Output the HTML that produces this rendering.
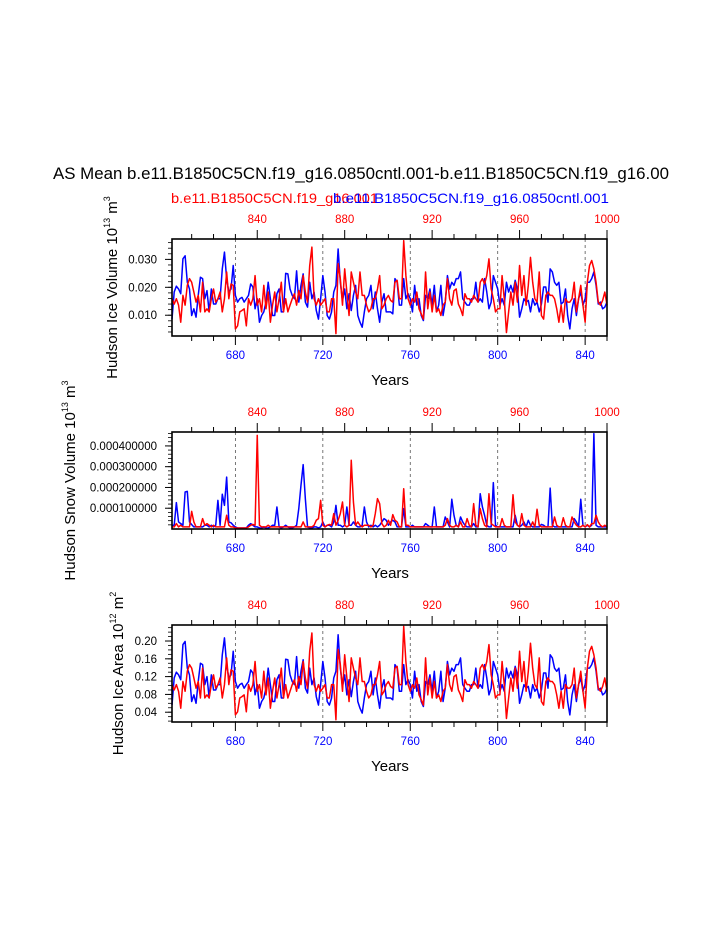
<!DOCTYPE html>
<html><head><meta charset="utf-8"><style>
html,body{margin:0;padding:0;background:#fff;}
svg{display:block;font-family:"Liberation Sans",Arial,sans-serif;}
</style></head><body>
<svg id="chart" width="723" height="935" viewBox="0 0 723 935" xmlns="http://www.w3.org/2000/svg">
<text x="361" y="179" font-size="16.5" text-anchor="middle" textLength="616" lengthAdjust="spacingAndGlyphs">AS Mean b.e11.B1850C5CN.f19_g16.0850cntl.001-b.e11.B1850C5CN.f19_g16.00</text>
<text x="171" y="203" font-size="14" fill="#ff0000" textLength="207" lengthAdjust="spacingAndGlyphs">b.e11.B1850C5CN.f19_g16.001</text>
<text x="333" y="203" font-size="14" fill="#0000ff" textLength="276" lengthAdjust="spacingAndGlyphs">b.e11.B1850C5CN.f19_g16.0850cntl.001</text>
<g id="panels"></g>
</svg>
<script>
// ---------- data ----------
const yearsStart = 651;           // blue case first year
const redOffset = 150;            // red case years = blue year + 150
const bottomTickLabels = [680, 720, 760, 800, 840];
const topTickLabels = [840, 880, 920, 960, 1000];

const iceVolBlue = [
.0086,.0183,.0204,.0194,.0177,.0302,.0313,.0218,.0194,.0099,
.0123,.0093,.0171,.0236,.0231,.0159,.0188,.0112,.0194,.0140,
.0140,.0159,.0159,.0266,.0326,.0231,.0183,.0194,.0278,.0171,
.0147,.0159,.0164,.0147,.0159,.0171,.0212,.0201,.0123,.0159,
.0075,.0099,.0112,.0147,.0218,.0159,.0099,.0099,.0177,.0194,
.0112,.0112,.0250,.0248,.0194,.0171,.0159,.0259,.0147,.0207,
.0248,.0147,.0129,.0218,.0159,.0183,.0117,.0086,.0159,.0242,
.0183,.0099,.0086,.0112,.0183,.0207,.0337,.0218,.0153,.0194,
.0123,.0177,.0117,.0171,.0207,.0099,.0075,.0057,.0112,.0159,
.0171,.0207,.0123,.0183,.0123,.0075,.0147,.0177,.0112,.0112,
.0112,.0105,.0231,.0218,.0136,.0136,.0231,.0159,.0177,.0159,
.0112,.0207,.0136,.0159,.0099,.0081,.0171,.0159,.0194,.0136,
.0207,.0112,.0136,.0207,.0099,.0147,.0242,.0194,.0218,.0207,
.0231,.0231,.0255,.0159,.0147,.0136,.0136,.0159,.0159,.0218,
.0147,.0159,.0147,.0231,.0183,.0123,.0147,.0242,.0218,.0194,
.0136,.0159,.0136,.0218,.0183,.0207,.0183,.0225,.0194,.0093,
.0123,.0159,.0147,.0153,.0112,.0159,.0136,.0147,.0112,.0140,
.0201,.0201,.0147,.0266,.0255,.0218,.0207,.0218,.0140,.0147,
.0194,.0099,.0051,.0123,.0159,.0099,.0159,.0183,.0136,.0159,
.0218,.0218,.0231,.0255,.0207,.0140,.0147,.0123,.0129,.0147];
const iceVolRed = [
.0159,.0140,.0159,.0136,.0075,.0171,.0136,.0207,.0231,.0218,
.0183,.0147,.0171,.0112,.0218,.0112,.0123,.0112,.0159,.0194,
.0147,.0159,.0183,.0112,.0159,.0255,.0159,.0212,.0207,.0051,
.0062,.0112,.0117,.0123,.0062,.0159,.0136,.0159,.0242,.0136,
.0159,.0112,.0207,.0123,.0183,.0075,.0136,.0183,.0112,.0159,
.0218,.0112,.0159,.0112,.0136,.0159,.0177,.0136,.0188,.0159,
.0242,.0183,.0147,.0278,.0344,.0159,.0136,.0159,.0136,.0147,
.0159,.0112,.0112,.0159,.0159,.0034,.0285,.0231,.0136,.0266,
.0183,.0099,.0255,.0218,.0183,.0159,.0255,.0171,.0171,.0136,
.0112,.0123,.0159,.0159,.0194,.0242,.0123,.0136,.0159,.0171,
.0153,.0147,.0218,.0225,.0159,.0159,.0367,.0242,.0159,.0136,
.0159,.0147,.0183,.0123,.0105,.0086,.0255,.0123,.0183,.0112,
.0171,.0112,.0123,.0099,.0136,.0147,.0231,.0159,.0136,.0188,
.0194,.0140,.0123,.0099,.0177,.0159,.0159,.0147,.0171,.0159,
.0147,.0218,.0231,.0212,.0242,.0302,.0194,.0159,.0112,.0123,
.0123,.0242,.0159,.0038,.0112,.0183,.0136,.0218,.0147,.0278,
.0171,.0242,.0136,.0207,.0307,.0218,.0159,.0147,.0255,.0099,
.0086,.0171,.0183,.0171,.0171,.0159,.0123,.0075,.0136,.0075,
.0159,.0147,.0147,.0159,.0218,.0112,.0159,.0207,.0136,.0075,
.0218,.0278,.0296,.0266,.0218,.0147,.0136,.0153,.0183,.0136];

// snow volume in units of 1e-4 (10^13 m^3)
const snowBlue = [
0.18,0.18,1.27,0.34,0.26,0.18,1.78,1.81,0.34,0.21,
0.10,0.10,0.10,0.10,0.10,0.18,0.18,0.10,0.18,0.10,
0.18,1.38,0.18,1.67,1.14,2.50,0.34,0.30,0.18,0.10,
0.05,0.05,0.05,0.05,0.05,0.18,0.26,0.18,0.10,0.10,
0.05,0.05,0.10,0.05,0.05,0.10,0.18,0.18,1.06,0.10,
0.05,0.10,0.18,0.10,0.05,0.05,0.10,0.18,0.98,2.10,
3.10,1.46,0.10,0.05,0.05,0.10,0.10,0.05,0.10,0.34,
0.10,0.18,0.18,0.10,0.34,1.14,0.18,0.18,0.10,0.18,
1.06,0.18,0.18,0.34,0.18,0.10,0.10,0.18,1.06,0.34,
0.10,0.18,0.10,0.18,0.10,0.18,0.34,0.50,0.42,0.18,
0.34,0.42,0.34,0.10,0.10,0.10,0.98,0.10,0.10,0.10,
0.18,0.10,0.10,0.10,0.10,0.10,0.26,0.18,0.10,0.10,
1.06,0.10,0.10,0.10,0.10,0.58,0.34,0.10,1.43,0.66,
0.18,0.10,0.58,0.34,0.18,0.10,0.10,0.10,0.26,0.10,
0.10,1.70,1.06,0.66,0.18,0.10,0.10,2.23,0.18,0.10,
0.10,0.10,0.10,0.10,0.10,0.10,0.10,0.66,0.18,0.10,
0.18,0.34,0.10,0.42,0.18,0.10,0.10,0.10,0.10,0.22,
0.18,0.10,0.10,1.97,0.18,0.10,0.10,0.10,0.10,0.10,
0.10,0.10,0.10,0.10,0.50,0.34,0.10,1.43,0.18,0.10,
0.18,0.10,0.18,4.59,0.18,0.10,0.10,0.10,0.10,0.10];
const snowRed = [
0.10,0.10,0.26,0.10,0.18,0.10,0.10,0.10,0.10,0.85,
0.34,0.10,0.10,0.10,0.50,0.18,0.26,0.18,0.10,0.18,
0.10,0.10,0.10,0.10,0.10,0.66,0.18,0.10,0.10,0.05,
0.05,0.05,0.05,0.05,0.05,0.10,0.18,0.22,0.18,4.51,
0.18,0.10,0.10,0.10,0.18,0.10,0.10,0.10,0.10,0.10,
0.10,0.10,0.10,0.10,0.10,0.10,0.10,0.10,0.10,0.10,
0.34,0.10,0.10,0.10,0.10,0.18,0.42,0.50,1.38,0.18,
0.10,0.18,0.22,0.18,0.74,0.18,0.42,0.74,1.30,0.18,
0.10,0.18,3.31,1.30,0.18,0.34,0.18,0.10,0.18,0.18,
0.18,0.10,0.18,0.74,1.46,1.22,0.26,0.10,0.18,0.42,
0.18,0.69,0.42,0.34,0.10,0.10,1.94,0.18,0.18,0.10,
0.10,0.10,0.10,0.10,0.10,0.10,0.10,0.10,0.10,0.10,
0.10,0.10,0.10,0.10,0.10,0.18,0.50,0.18,0.10,0.10,
0.18,0.10,0.34,0.10,0.10,0.50,0.18,0.10,1.22,0.18,
0.10,0.98,0.50,0.18,0.10,1.70,0.26,0.18,0.10,0.10,
0.10,0.50,0.18,0.10,0.10,0.10,1.65,0.34,0.18,0.10,
0.74,0.18,0.10,0.10,0.10,0.34,0.10,0.95,0.18,0.10,
0.10,0.10,0.10,0.10,0.10,0.58,0.18,0.10,0.10,0.54,
0.18,0.10,0.10,0.58,0.34,0.18,0.10,0.10,0.18,0.10,
0.21,0.10,0.26,0.26,0.66,0.34,0.18,0.10,0.18,0.10];

const areaBlue = [
0.056,0.117,0.130,0.124,0.113,0.192,0.199,0.139,0.124,0.064,
0.079,0.060,0.109,0.150,0.147,0.102,0.120,0.072,0.124,0.090,
0.090,0.102,0.102,0.169,0.207,0.147,0.117,0.124,0.177,0.109,
0.094,0.102,0.105,0.094,0.102,0.109,0.135,0.128,0.079,0.102,
0.049,0.064,0.072,0.094,0.139,0.102,0.064,0.064,0.113,0.124,
0.072,0.072,0.159,0.158,0.124,0.109,0.102,0.165,0.094,0.132,
0.158,0.094,0.083,0.139,0.102,0.117,0.075,0.056,0.102,0.154,
0.117,0.064,0.056,0.072,0.117,0.132,0.214,0.139,0.098,0.124,
0.079,0.113,0.075,0.109,0.132,0.064,0.049,0.038,0.072,0.102,
0.109,0.132,0.079,0.117,0.079,0.049,0.094,0.113,0.072,0.072,
0.072,0.068,0.147,0.139,0.087,0.087,0.147,0.102,0.113,0.102,
0.072,0.132,0.087,0.102,0.064,0.053,0.109,0.102,0.124,0.087,
0.132,0.072,0.087,0.132,0.064,0.094,0.154,0.124,0.139,0.132,
0.147,0.147,0.162,0.102,0.094,0.087,0.087,0.102,0.102,0.139,
0.094,0.102,0.094,0.147,0.117,0.079,0.094,0.154,0.139,0.124,
0.087,0.102,0.087,0.139,0.117,0.132,0.117,0.143,0.124,0.060,
0.079,0.102,0.094,0.098,0.072,0.102,0.087,0.094,0.072,0.090,
0.128,0.128,0.094,0.169,0.162,0.139,0.132,0.139,0.090,0.094,
0.124,0.064,0.034,0.079,0.102,0.064,0.102,0.117,0.087,0.102,
0.139,0.139,0.147,0.162,0.132,0.090,0.094,0.079,0.083,0.094];
const areaRed = [
0.102,0.090,0.102,0.087,0.049,0.109,0.087,0.132,0.147,0.139,
0.117,0.094,0.109,0.072,0.139,0.072,0.079,0.072,0.102,0.124,
0.094,0.102,0.117,0.072,0.102,0.162,0.102,0.135,0.132,0.034,
0.041,0.072,0.075,0.079,0.041,0.102,0.087,0.102,0.154,0.087,
0.102,0.072,0.132,0.079,0.117,0.049,0.087,0.117,0.072,0.102,
0.139,0.072,0.102,0.072,0.087,0.102,0.113,0.087,0.120,0.102,
0.154,0.117,0.094,0.177,0.218,0.102,0.087,0.102,0.087,0.094,
0.102,0.072,0.072,0.102,0.102,0.023,0.181,0.147,0.087,0.169,
0.117,0.064,0.162,0.139,0.117,0.102,0.162,0.109,0.109,0.087,
0.072,0.079,0.102,0.102,0.124,0.154,0.079,0.087,0.102,0.109,
0.098,0.094,0.139,0.143,0.102,0.102,0.233,0.154,0.102,0.087,
0.102,0.094,0.117,0.079,0.068,0.056,0.162,0.079,0.117,0.072,
0.109,0.072,0.079,0.064,0.087,0.094,0.147,0.102,0.087,0.120,
0.124,0.090,0.079,0.064,0.113,0.102,0.102,0.094,0.109,0.102,
0.094,0.139,0.147,0.135,0.154,0.192,0.124,0.102,0.072,0.079,
0.079,0.154,0.102,0.026,0.072,0.117,0.087,0.139,0.094,0.177,
0.109,0.154,0.087,0.132,0.195,0.139,0.102,0.094,0.162,0.064,
0.056,0.109,0.117,0.109,0.109,0.102,0.079,0.049,0.087,0.049,
0.102,0.094,0.094,0.102,0.139,0.072,0.102,0.132,0.087,0.049,
0.139,0.177,0.188,0.169,0.139,0.094,0.087,0.098,0.117,0.087];

const volTicks = [0.010, 0.020, 0.030];
const volTickLabels = ["0.010", "0.020", "0.030"];
const snowTicks = [1, 2, 3, 4];
const snowTickLabels = ["0.000100000", "0.000200000", "0.000300000", "0.000400000"];
const areaTicks = [0.04, 0.08, 0.12, 0.16, 0.20];
const areaTickLabels = ["0.04", "0.08", "0.12", "0.16", "0.20"];

// ---------- drawing ----------
const NS = "http://www.w3.org/2000/svg";
const root = document.getElementById("panels");
const X0 = 172, X1 = 607, H = 97;
const yearMin = 651, yearMax = 850;
function xScale(yr){ return X0 + (yr - yearMin) * (X1 - X0) / (yearMax - yearMin); }
function mk(tag, attrs, parent){
  const e = document.createElementNS(NS, tag);
  for (const k in attrs) e.setAttribute(k, attrs[k]);
  (parent || root).appendChild(e);
  return e;
}

function panel(cfg){
  const g = mk("g", {});
  
  
  const top = cfg.top, bot = top + H;
  const yScale = v => bot - (v - cfg.ymin) * H / (cfg.ymax - cfg.ymin);

  bottomTickLabels.forEach(yr => {
    const l = mk("line", {x1: xScale(yr), x2: xScale(yr), y1: top, y2: bot, stroke: "#555", "stroke-width": 0.8, "stroke-dasharray": "3,3"}, g);
    
    
  });

  function series(vals, color, nm){
    let d = "";
    vals.forEach((v, i) => {
      const yv = Math.max(cfg.ymin, Math.min(cfg.ymax, v));
      d += (i ? "L" : "M") + xScale(yearsStart + i).toFixed(2) + "," + yScale(yv).toFixed(2);
    });
    const p = mk("path", {d: d, fill: "none", stroke: color, "stroke-width": 1.5, "stroke-linejoin": "round"}, g);
    
    
  }
  series(cfg.blue, "#0000ff", "series-blue-line");
  series(cfg.red, "#ff0000", "series-red-line");

  const fr = mk("rect", {x: X0, y: top, width: X1 - X0, height: H, fill: "none", stroke: "#000", "stroke-width": 1.6}, g);
  
  

  for (let yr = 660; yr <= 850; yr += 10){
    const x = xScale(yr);
    const majB = bottomTickLabels.includes(yr);
    mk("line", {x1: x, x2: x, y1: bot, y2: bot + (majB ? 9 : 5), stroke: "#000", "stroke-width": 1}, g);
    const majT = topTickLabels.includes(yr + redOffset);
    mk("line", {x1: x, x2: x, y1: top, y2: top - (majT ? 9 : 5), stroke: "#000", "stroke-width": 1}, g);
  }
  bottomTickLabels.forEach(yr => {
    const t = mk("text", {x: xScale(yr), y: bot + 23, "font-size": 11.5, fill: "#0000ff", "text-anchor": "middle"}, g);
    t.textContent = yr;
    
    
  });
  topTickLabels.forEach(yr => {
    const t = mk("text", {x: xScale(yr - redOffset), y: top - 16, "font-size": 11.5, fill: "#ff0000", "text-anchor": "middle"}, g);
    t.textContent = yr;
    
    
  });
  const xt = mk("text", {x: 390, y: bot + 49, "font-size": 15, "text-anchor": "middle"}, g);
  xt.textContent = "Years";
  
  

  for (let v = cfg.minorStart; v <= cfg.ymax + 1e-9; v += cfg.minorStep){
    mk("line", {x1: X0 - 4, x2: X0, y1: yScale(v), y2: yScale(v), stroke: "#000", "stroke-width": 0.8}, g);
  }
  cfg.ticks.forEach((v, i) => {
    mk("line", {x1: X0 - 7, x2: X0, y1: yScale(v), y2: yScale(v), stroke: "#000", "stroke-width": 1}, g);
    const t = mk("text", {x: X0 - 15, y: yScale(v) + 4, "font-size": 11.5, "text-anchor": "end"}, g);
    t.textContent = cfg.tickLabels[i];
    
    
  });

  const cy = top + H / 2;
  const yt = mk("text", {x: 0, y: 0, "font-size": 15, "text-anchor": "middle", transform: "translate(" + cfg.titleX + "," + cy + ") rotate(-90)"}, g);
  
  
  const s1 = mk("tspan", {}, yt); s1.textContent = cfg.title + " 10";
  const s2 = mk("tspan", {dy: -7, "font-size": 9}, yt); s2.textContent = cfg.exp;
  const s3 = mk("tspan", {dy: 7}, yt); s3.textContent = " m";
  const s4 = mk("tspan", {dy: -7, "font-size": 9}, yt); s4.textContent = cfg.unitExp;
}

panel({name: "ice-volume-panel", top: 239, ymin: 0.00256, ymax: 0.0373, blue: iceVolBlue, red: iceVolRed,
  ticks: volTicks, tickLabels: volTickLabels, minorStart: 0.004, minorStep: 0.002,
  title: "Hudson Ice Volume", exp: "13", unitExp: "3", titleX: 117});
panel({name: "snow-volume-panel", top: 432, ymin: 0, ymax: 4.67, blue: snowBlue, red: snowRed,
  ticks: snowTicks, tickLabels: snowTickLabels, minorStart: 0.2, minorStep: 0.2,
  title: "Hudson Snow Volume", exp: "13", unitExp: "3", titleX: 75});
panel({name: "ice-area-panel", top: 625, ymin: 0.018, ymax: 0.236, blue: areaBlue, red: areaRed,
  ticks: areaTicks, tickLabels: areaTickLabels, minorStart: 0.02, minorStep: 0.01,
  title: "Hudson Ice Area", exp: "12", unitExp: "2", titleX: 123});
</script>
</body></html>
